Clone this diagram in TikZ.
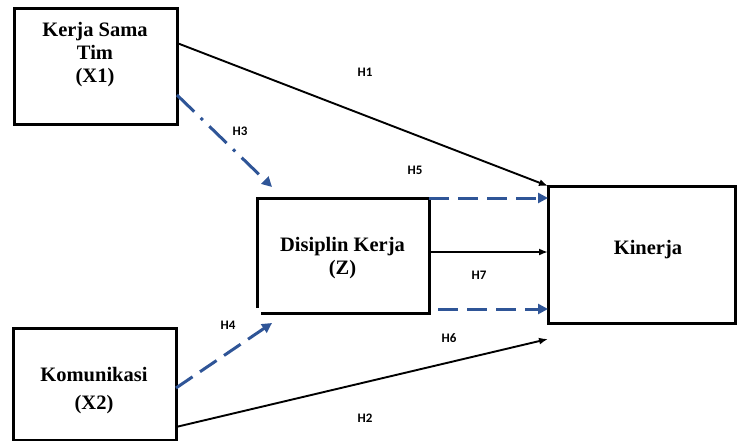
\documentclass[tikz,border=0pt]{standalone}
\usepackage{fontspec}
\setmainfont{Liberation Serif}
\newfontfamily\labfont{Carlito}
\usetikzlibrary{arrows.meta,calc}
\definecolor{dblue}{RGB}{47,85,151}
\tikzset{
  every node/.style={outer sep=0pt},
  box/.style={draw=black,line width=3pt,inner sep=0pt},
  boxtext/.style={font=\fontsize{20.5}{23}\selectfont\bfseries,align=center,inner sep=0pt},
  hlab/.style={font=\labfont\fontsize{13}{14}\selectfont\bfseries,inner sep=0pt},
  blackarrow/.style={draw=black,line width=1.9pt,-{Latex[length=9pt,width=7pt]}},
  bluedash/.style={draw=dblue,line width=3pt,dash pattern=on 20pt off 9pt,-{Triangle[length=10pt,width=10pt]}},
  bluedashdot/.style={draw=dblue,line width=3pt,dash pattern=on 24pt off 9pt on 3pt off 9pt,-{Triangle[length=10pt,width=10pt]}}
}
\begin{document}
\begin{tikzpicture}[x=1pt,y=-1pt]
\useasboundingbox (0,0) rectangle (738,441);
% boxes
\node[box,minimum width=163pt,minimum height=115pt] (x1) at (95.5,66.5) {};
\node[boxtext] (x1t) at (95,55) {Kerja Sama\\Tim\\(X1)};
\node[box,minimum width=163pt,minimum height=112pt] (x2) at (94.5,384) {};
\node[boxtext] (x2t) at (94,391) {Komunikasi\\[5pt](X2)};
\node[inner sep=0pt,minimum width=172pt,minimum height=115pt] (z) at (343,255.5) {};
\draw[line width=3pt] ([yshift=5pt]z.south west) -- (z.north west) -- (z.north east) -- (z.south east) -- ([xshift=4pt]z.south west);
\node[boxtext] (zt) at (342.5,258) {Disiplin Kerja\\(Z)};
\node[box,minimum width=187pt,minimum height=137pt] (kin) at (641.5,254.5) {};
\node[boxtext] (kint) at (648,250) {Kinerja};
% connectors
\coordinate (h3end) at ([shift={(15pt,11pt)}]z.north west);
\coordinate (h4end) at ([shift={(15pt,-10pt)}]z.south west);
\draw[blackarrow] ([yshift=-34pt]x1.north east) -- (kin.north west);
\draw[bluedashdot] ([yshift=-86pt]x1.north east) -- (h3end);
\draw[bluedash] (z.north east) -- ([yshift=-12pt]kin.north west);
\draw[blackarrow] ([yshift=3.5pt]z.east) -- ([yshift=2.5pt]kin.west);
\draw[bluedash] ([shift={(9pt,4pt)}]z.south east) -- ([yshift=14pt]kin.south west);
\draw[bluedash] ([yshift=-4pt]x2.east) -- (h4end);
\draw[blackarrow] ([yshift=-43pt]x2.east) -- ([yshift=-16pt]kin.south west);
% labels
\node[hlab] (l1) at (365,72) {H1};
\node[hlab] (l3) at (240,131) {H3};
\node[hlab] (l5) at (415,170) {H5};
\node[hlab] (l7) at (479,275) {H7};
\node[hlab] (l4) at (228,325) {H4};
\node[hlab] (l6) at (449,338) {H6};
\node[hlab] (l2) at (365,418) {H2};
\end{tikzpicture}
\end{document}
